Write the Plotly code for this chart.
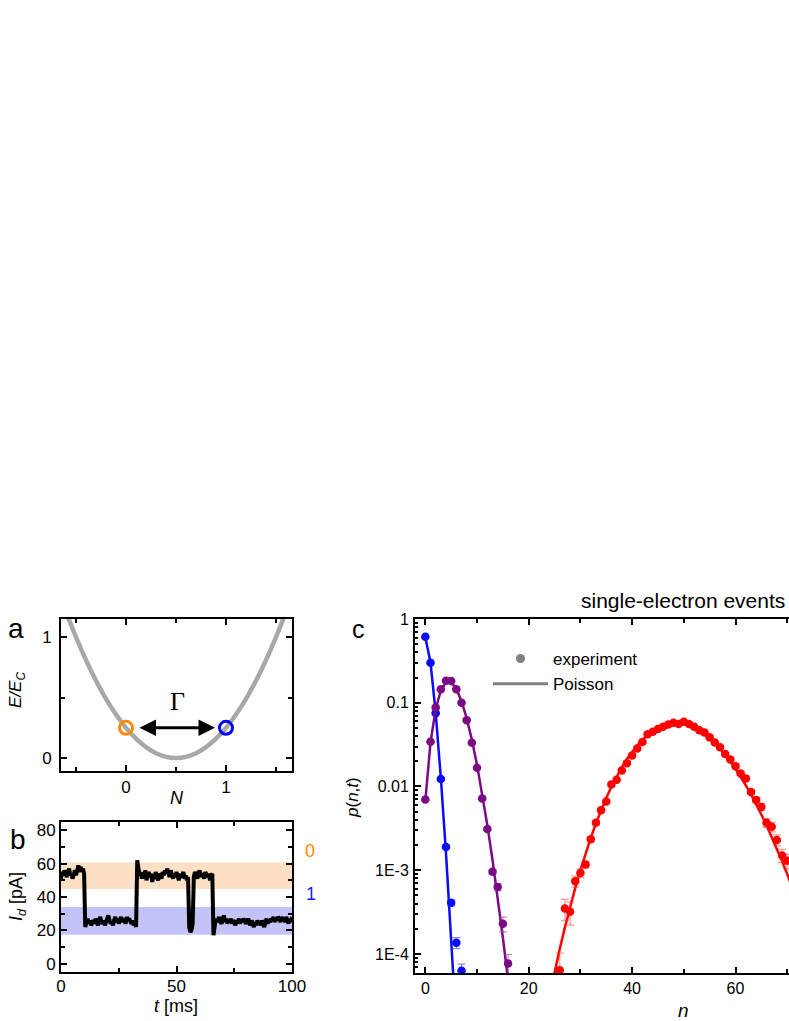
import plotly.graph_objects as go

W, H = 789, 1021
FONT = "Liberation Sans, Arial, sans-serif"

# ---- panel a: charging energy vs N ----
charge_n = [-0.6, -0.5, -0.4, -0.3, -0.2, -0.1, 0.0, 0.1, 0.2, 0.3, 0.4, 0.5,
            0.6, 0.7, 0.8, 0.9, 1.0, 1.1, 1.2, 1.3, 1.4, 1.5, 1.6]
charge_e = [1.21, 1.0, 0.81, 0.64, 0.49, 0.36, 0.25, 0.16, 0.09, 0.04, 0.01, 0.0,
            0.01, 0.04, 0.09, 0.16, 0.25, 0.36, 0.49, 0.64, 0.81, 1.0, 1.21]
state_n = [0, 1]
state_e = [0.25, 0.25]
state_colors = ["#ff8a00", "#0000ff"]

# ---- panel b: detector current trace, 0.5 ms steps ----
current_pA = (
    [51, 55, 53, 56, 54, 52, 55, 57, 53, 54, 51, 55, 56, 53, 57, 59, 55, 58, 56, 57, 54]
    + [22]
    + [25, 27, 24, 26, 23, 25, 26, 24, 27, 25, 23, 26, 28, 25, 24, 26, 23, 25, 27, 29,
       26, 24, 25, 23, 26, 28, 25, 27, 24, 26, 28, 25, 27, 26, 24, 28, 26, 27, 25, 24,
       26, 23, 25, 22]
    + [62]
    + [57, 53, 55, 51, 54, 52, 56, 50, 53, 55, 52, 54, 49, 53, 51, 55, 52, 50, 54, 53,
       51, 55, 53, 56, 54, 57, 55, 52, 56, 53, 51, 54, 52, 55, 53, 50, 54, 52, 53, 55,
       51, 53, 50, 52]
    + [22, 19, 20, 24]
    + [52, 55, 53, 51, 54, 56, 52, 54, 53, 51, 55, 53, 52, 54, 50, 53, 54]
    + [17]
    + [24, 27, 25, 26, 28, 25, 24, 26, 29, 25, 27, 24, 26, 25, 27, 24, 26, 25, 23, 26,
       25, 27, 24, 26, 25, 27, 26, 24, 25, 27, 25, 23, 26, 24, 22, 25, 23, 26, 24, 25,
       23, 26, 24, 22, 25, 27, 24, 26, 25, 27, 26, 28, 25, 27, 26, 28, 27, 25, 28, 26,
       27, 25, 28, 26, 24, 27, 25, 28]
)
time_ms = [i * 100 / (len(current_pA) - 1) for i in range(len(current_pA))]
band_0 = [44.8, 60.9]
band_1 = [17.3, 34.0]

# ---- panel c: counting statistics ----
blue_n = [0, 1, 2, 3, 4, 5, 6, 7]
blue_p = [0.615, 0.30, 0.075, 0.0123, 0.0019, 4.1e-4, 1.36e-4, 6.3e-5]
blue_rel = [0.01, 0.01, 0.02, 0.03, 0.05, 0.08, 0.15, 0.2]
blue_fit_n = [0, 1, 2, 3, 4, 5, 6]
blue_fit = [0.6065, 0.3033, 0.0758, 0.01264, 0.00158, 1.58e-4, 1.32e-5]

purple_n = list(range(17))
purple_p = [0.0070, 0.0342, 0.088, 0.145, 0.183, 0.182, 0.145, 0.100, 0.062,
            0.0333, 0.0167, 0.0072, 0.0031, 9.6e-4, 6.3e-4, 2.3e-4, 7.7e-5]
purple_rel = [0.02] * 12 + [0.04, 0.06, 0.1, 0.2, 0.28]
purple_fit_n = list(range(18))
purple_fit = [0.00674, 0.0337, 0.0842, 0.1404, 0.1755, 0.1755, 0.1462, 0.1044,
              0.0653, 0.0363, 0.0181, 0.00824, 0.00343, 0.00132, 4.71e-4,
              1.57e-4, 4.91e-5, 1.44e-5]

red_n = list(range(26, 71))
red_p = [6.4e-5, 3.5e-4, 3.2e-4, 7.4e-4, 9.3e-4, 1.17e-3, 2.35e-3, 3.7e-3, 5.2e-3,
         6.6e-3, 0.0106, 0.012, 0.0155, 0.019, 0.0235, 0.0285, 0.034, 0.042, 0.045,
         0.0485, 0.0517, 0.055, 0.0578, 0.0557, 0.0593, 0.0557, 0.0517, 0.047, 0.044,
         0.0386, 0.0335, 0.0295, 0.0245, 0.021, 0.0175, 0.0143, 0.0125, 0.0086,
         0.0069, 0.0057, 0.0037, 0.0033, 0.0023, 0.0015, 0.0013]
red_rel = [0.6, 0.28, 0.31, 0.15, 0.12, 0.09, 0.07, 0.06, 0.05] + [0.04] * 25 \
    + [0.05, 0.05, 0.06, 0.07, 0.08, 0.1, 0.12, 0.13, 0.15, 0.18, 0.2]
red_fit_n = list(range(24, 73))
red_fit = [3.10e-5, 6.08e-5, 1.146e-4, 2.08e-4, 3.64e-4, 6.15e-4, 1.004e-3, 1.588e-3,
           2.43e-3, 3.61e-3, 5.20e-3, 7.29e-3, 9.91e-3, 0.01313, 0.01693, 0.02127,
           0.02604, 0.03113, 0.03633, 0.04139, 0.04609, 0.05019, 0.05346, 0.05573,
           0.05690, 0.05690, 0.05576, 0.05357, 0.05048, 0.04667, 0.04234, 0.03772,
           0.03301, 0.02837, 0.02397, 0.01991, 0.01626, 0.01305, 0.01032, 8.03e-3,
           6.15e-3, 4.63e-3, 3.44e-3, 2.52e-3, 1.813e-3, 1.287e-3, 9.01e-4, 6.22e-4,
           4.23e-4]

c_yticks = [1, 0.1, 0.01, 1e-3, 1e-4]
c_yticktext = ["1", "0.1", "0.01", "1E-3", "1E-4"]


def px_x(x):
    return x / W


def px_y(y):
    return 1 - y / H


fig = go.Figure()

# panel a
fig.add_trace(go.Scatter(x=charge_n, y=charge_e, mode="lines", line_shape="spline",
                         line=dict(color="#a8a8a8", width=4.5), xaxis="x", yaxis="y",
                         showlegend=False))
fig.add_trace(go.Scatter(x=state_n, y=state_e, mode="markers", xaxis="x", yaxis="y",
                         marker=dict(symbol="circle-open", size=13, color=state_colors,
                                     line=dict(width=3, color=state_colors)),
                         showlegend=False))

# panel b
fig.add_trace(go.Scatter(x=time_ms, y=current_pA, mode="lines",
                         line=dict(color="black", width=4), xaxis="x2", yaxis="y2",
                         showlegend=False))


def counting(n, p, rel, fit_n, fit, color, err_color):
    fig.add_trace(go.Scatter(x=fit_n, y=fit, mode="lines", line=dict(color=color, width=2.5),
                             xaxis="x3", yaxis="y3", showlegend=False))
    err = [a * r for a, r in zip(p, rel)]
    fig.add_trace(go.Scatter(x=n, y=p, mode="markers", xaxis="x3", yaxis="y3",
                             marker=dict(color=color, size=8.5),
                             error_y=dict(type="data", array=err, arrayminus=err,
                                          color=err_color, thickness=1.2, width=4),
                             showlegend=False))


counting(blue_n, blue_p, blue_rel, blue_fit_n, blue_fit, "#0a0aff", "rgba(60,60,255,0.6)")
counting(purple_n, purple_p, purple_rel, purple_fit_n, purple_fit, "#7b0a84",
         "rgba(150,60,160,0.6)")
counting(red_n, red_p, red_rel, red_fit_n, red_fit, "#ff0000", "rgba(255,60,60,0.55)")

# legend entries
fig.add_trace(go.Scatter(x=[None], y=[None], mode="markers", name="experiment",
                         marker=dict(color="#808080", size=9), xaxis="x3", yaxis="y3"))
fig.add_trace(go.Scatter(x=[None], y=[None], mode="lines", name="Poisson",
                         line=dict(color="#808080", width=3), xaxis="x3", yaxis="y3"))

axis_common = dict(showline=True, linewidth=2, linecolor="black", ticks="inside",
                   ticklen=6, tickwidth=1.5, tickcolor="black", showgrid=False,
                   zeroline=False, tickmode="array", automargin=False,
                   tickfont=dict(family=FONT, size=17, color="black"))


def minor(vals, length=4):
    return dict(ticks="inside", ticklen=length, tickwidth=1.5, tickcolor="black",
                tickmode="array", tickvals=vals, showgrid=False)


c_minor = [m * 10 ** e for e in range(-5, 0) for m in range(2, 10)]

fig.update_layout(
    template="simple_white",
    width=W, height=H, margin=dict(l=0, r=0, t=0, b=0, autoexpand=False), autosize=False,
    paper_bgcolor="white", plot_bgcolor="white",
    font=dict(family=FONT, color="black"),
    xaxis=dict(axis_common, domain=[px_x(61), px_x(292)], anchor="y", range=[-0.65, 1.66],
               tickvals=[0, 1], minor=minor([-0.5, 0.5, 1.5]), mirror="ticks"),
    yaxis=dict(axis_common, domain=[px_y(771), px_y(619)], anchor="x", range=[-0.107, 1.15],
               tickvals=[0, 1], minor=minor([0.5]), mirror="ticks", ticklabelstandoff=4),
    xaxis2=dict(axis_common, domain=[px_x(61), px_x(292)], anchor="y2", range=[0, 100],
                tickvals=[0, 50, 100], minor=minor([25, 75]), mirror="ticks",
                ticklabelstandoff=-2),
    yaxis2=dict(axis_common, domain=[px_y(972), px_y(822)], anchor="x2", range=[-5, 85],
                tickvals=[0, 20, 40, 60, 80], minor=minor([10, 30, 50, 70]), mirror="ticks"),
    xaxis3=dict(axis_common, domain=[px_x(415), 1.0], anchor="y3", range=[-2, 70.35],
                tickvals=[0, 20, 40, 60], minor=minor([10, 30, 50, 70]), mirror="ticks",
                tickfont=dict(family=FONT, size=16, color="black")),
    yaxis3=dict(axis_common, type="log", domain=[px_y(973), px_y(619)], anchor="x3",
                range=[-4.227, 0], tickvals=c_yticks, ticktext=c_yticktext,
                minor=minor(c_minor, 3), mirror=False, ticklabelstandoff=1,
                tickfont=dict(family=FONT, size=16, color="black")),
    legend=dict(x=px_x(488), y=px_y(641), xanchor="left", yanchor="top",
                bgcolor="rgba(0,0,0,0)", itemwidth=55, tracegroupgap=0,
                font=dict(family=FONT, size=17, color="black")),
    shapes=[
        dict(type="rect", xref="x2", yref="y2", x0=0, x1=100, y0=band_0[0], y1=band_0[1],
             fillcolor="#fce0c6", opacity=1, line=dict(width=0), layer="below"),
        dict(type="rect", xref="x2", yref="y2", x0=0, x1=100, y0=band_1[0], y1=band_1[1],
             fillcolor="#c3c3f8", opacity=1, line=dict(width=0), layer="below"),
    ],
)

# arrow between the two charge states
fig.add_annotation(x=0.89, y=0.25, ax=0.12, ay=0.25, xref="x", yref="y", axref="x", ayref="y",
                   text="", showarrow=True, arrowhead=2, arrowside="end+start",
                   arrowsize=1.1, arrowwidth=3, arrowcolor="black")


def label(x, y, text, size=17, color="black", angle=0, xanchor="center", family=FONT):
    fig.add_annotation(x=px_x(x), y=px_y(y), xref="paper", yref="paper", text=text,
                       showarrow=False, textangle=angle, xanchor=xanchor, yanchor="middle",
                       font=dict(family=family, size=size, color=color))


label(177, 701, "Γ", size=26, family="Liberation Serif, Times New Roman, serif")
label(16, 628, "a", size=28)
label(18, 839, "b", size=28)
label(358, 629, "c", size=25)
label(17, 690, "<i>E/E<sub>C</sub></i>", size=17, angle=-90)
label(177, 798, "<i>N</i>", size=18)
label(17, 897, "<i>I<sub>d</sub></i> [pA]", size=18, angle=-90)
label(176, 1006, "<i>t</i> [ms]", size=18)
label(352, 798, "<i>p</i>(<i>n</i>,<i>t</i>)", size=17, angle=-90)
label(683, 1010, "<i>n</i>", size=19)
label(310, 851, "0", size=18, color="#ff8a00")
label(311, 894, "1", size=18, color="#1a1aff")
label(787, 600, "single-electron events", size=21, xanchor="right")

fig.write_html(
    "out.html",
    config={"responsive": False, "displayModeBar": False},
    post_script="document.body.style.margin='0';"
                "document.documentElement.style.overflow='hidden';"
                "document.body.style.overflow='hidden';",
)
